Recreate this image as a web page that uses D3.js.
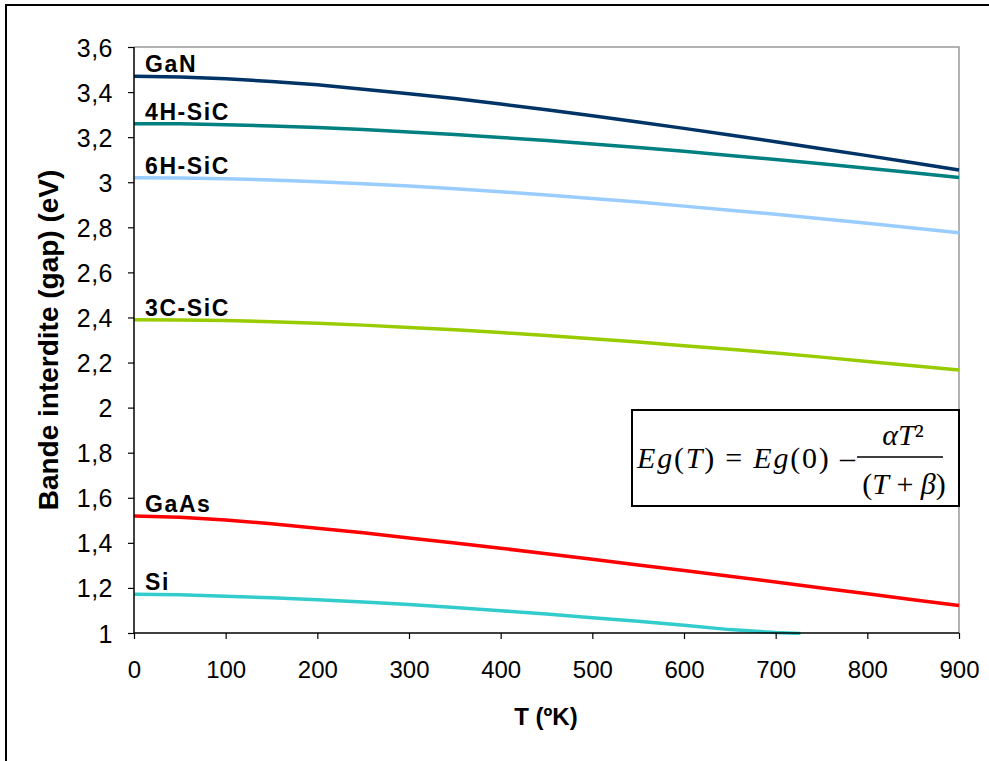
<!DOCTYPE html>
<html><head><meta charset="utf-8">
<script src="https://cdn.jsdelivr.net/npm/d3@7"></script>
<style>body{margin:0;background:#fff}svg{display:block}</style>
</head><body><svg id="c" width="989" height="761"></svg>
<script>
const temps = [0,50,100,150,200,250,300,350,400,450,500,550,600,650,700,750,800,850,900];
const siTemps = [0,50,100,150,200,250,300,350,400,450,500,550,600,650,700,727];
const materials = ["GaN","4H-SiC","6H-SiC","3C-SiC","GaAs","Si"];
const colors = ["#003366","#008080","#99CCFF","#99CC00","#FF0000","#33CCCC"];
const GaN   = [3.470,3.467,3.459,3.447,3.432,3.413,3.393,3.371,3.347,3.322,3.295,3.267,3.239,3.210,3.180,3.149,3.118,3.086,3.054];
const SiC4H = [3.260,3.259,3.255,3.250,3.243,3.234,3.223,3.212,3.199,3.185,3.170,3.154,3.137,3.119,3.101,3.082,3.062,3.042,3.021];
const SiC6H = [3.020,3.019,3.015,3.010,3.002,2.993,2.983,2.971,2.958,2.943,2.928,2.912,2.894,2.876,2.858,2.838,2.818,2.797,2.776];
const SiC3C = [2.390,2.389,2.386,2.381,2.374,2.366,2.356,2.345,2.333,2.320,2.306,2.291,2.275,2.259,2.242,2.224,2.205,2.186,2.167];
const GaAs  = [1.519,1.514,1.501,1.485,1.465,1.445,1.422,1.399,1.376,1.352,1.327,1.302,1.277,1.252,1.226,1.200,1.174,1.148,1.122];
const Si    = [1.172,1.170,1.163,1.156,1.147,1.137,1.126,1.113,1.099,1.084,1.068,1.052,1.034,1.015,1.002,0.998];
const xTicks = [0,100,200,300,400,500,600,700,800,900];
const yTicks = [1,1.2,1.4,1.6,1.8,2,2.2,2.4,2.6,2.8,3,3.2,3.4,3.6];
const yLabels = ["1","1,2","1,4","1,6","1,8","2","2,2","2,4","2,6","2,8","3","3,2","3,4","3,6"];

const seriesVals = [GaN,SiC4H,SiC6H,SiC3C,GaAs,Si];
const seriesT = [temps,temps,temps,temps,temps,siTemps];

const svg = d3.select("#c");
const L=134,R=959,T=47,B=633;
const x = d3.scaleLinear().domain([0,900]).range([L,R]);
const y = d3.scaleLinear().domain([1,3.6]).range([B,T]);
const sans = "Liberation Sans, Arial, sans-serif";

// outer frame
svg.append("path").attr("d","M6,761 V5 H989").attr("fill","none").attr("stroke","#000").attr("stroke-width",2);

// plot border top/right
svg.append("path").attr("d",`M${L},${T} H${R} V${B}`).attr("fill","none").attr("stroke","#9a9a9a").attr("stroke-width",1.5);

svg.append("clipPath").attr("id","clip").append("rect").attr("x",L).attr("y",T-5).attr("width",R-L+5).attr("height",B-T+7);

const line = d3.line().x(d=>x(d[0])).y(d=>y(d[1]));
const g = svg.append("g").attr("clip-path","url(#clip)");
materials.forEach((m,i)=>{
  const pts = seriesT[i].map((t,j)=>[t,seriesVals[i][j]]);
  g.append("path").attr("d",line(pts)).attr("fill","none").attr("stroke",colors[i])
   .attr("stroke-width",3.5).attr("stroke-linejoin","round");
});

// axes
const xAxis = d3.axisBottom(x).tickValues(xTicks).tickSize(6).tickPadding(0).tickFormat(d3.format("d"));
const xa = svg.append("g").attr("transform",`translate(0,${B})`).call(xAxis);
xa.select(".domain").attr("stroke","#000").attr("stroke-width",1.5).attr("d",`M${L},0H${R}`);
xa.selectAll(".tick line").attr("stroke","#000").attr("stroke-width",1.2);
xa.selectAll(".tick text").attr("font-family",sans).attr("font-size",24).attr("fill","#000").attr("dy",null).attr("y",45);

const yAxis = d3.axisLeft(y).tickValues(yTicks).tickSize(6).tickPadding(15).tickFormat((d,i)=>yLabels[i]);
const ya = svg.append("g").attr("transform",`translate(${L},0)`).call(yAxis);
ya.select(".domain").attr("stroke","#000").attr("stroke-width",1.5).attr("d",`M0,${B}V${T}`);
ya.selectAll(".tick line").attr("stroke","#000").attr("stroke-width",1.2);
ya.selectAll(".tick text").attr("font-family",sans).attr("font-size",25).attr("fill","#000").attr("dy","0.36em").attr("letter-spacing",0.5);

// series labels
materials.forEach((m,i)=>{
  svg.append("text").attr("x",145).attr("y",y(seriesVals[i][0])-4)
    .attr("font-family",sans).attr("font-weight","bold")
    .attr("font-size",23).attr("letter-spacing",1.6).attr("fill","#000").text(m);
});

// axis titles
svg.append("text").attr("x",546).attr("y",725).attr("text-anchor","middle")
  .attr("font-family",sans).attr("font-weight","bold").attr("font-size",24).text("T (ºK)");
svg.append("text").attr("transform",`translate(58,340) rotate(-90)`).attr("text-anchor","middle")
  .attr("font-family",sans).attr("font-weight","bold").attr("font-size",28).text("Bande interdite (gap) (eV)");

// formula box
svg.append("rect").attr("x",632).attr("y",410).attr("width",327).attr("height",96)
  .attr("fill","#fff").attr("stroke","#000").attr("stroke-width",2);
const serif = "Liberation Serif, Times New Roman, serif";
const f = svg.append("text").attr("x",637).attr("y",468).attr("font-family",serif).attr("font-size",30).attr("letter-spacing",1.8);
f.append("tspan").attr("font-style","italic").text("Eg");
f.append("tspan").text("(");
f.append("tspan").attr("font-style","italic").text("T");
f.append("tspan").text(") = ");
f.append("tspan").attr("font-style","italic").text("Eg");
f.append("tspan").text("(0) –");
svg.append("line").attr("x1",857).attr("x2",943).attr("y1",457).attr("y2",457).attr("stroke","#000").attr("stroke-width",1.3);
const n = svg.append("text").attr("x",903).attr("y",445).attr("text-anchor","middle").attr("font-family",serif).attr("font-size",30);
n.append("tspan").attr("font-style","italic").text("αT");
n.append("tspan").text("²");
const dd = svg.append("text").attr("x",904).attr("y",494).attr("text-anchor","middle").attr("font-family",serif).attr("font-size",30);
dd.append("tspan").text("(");
dd.append("tspan").attr("font-style","italic").text("T");
dd.append("tspan").text(" + ");
dd.append("tspan").attr("font-style","italic").text("β");
dd.append("tspan").text(")");
</script></body></html>
